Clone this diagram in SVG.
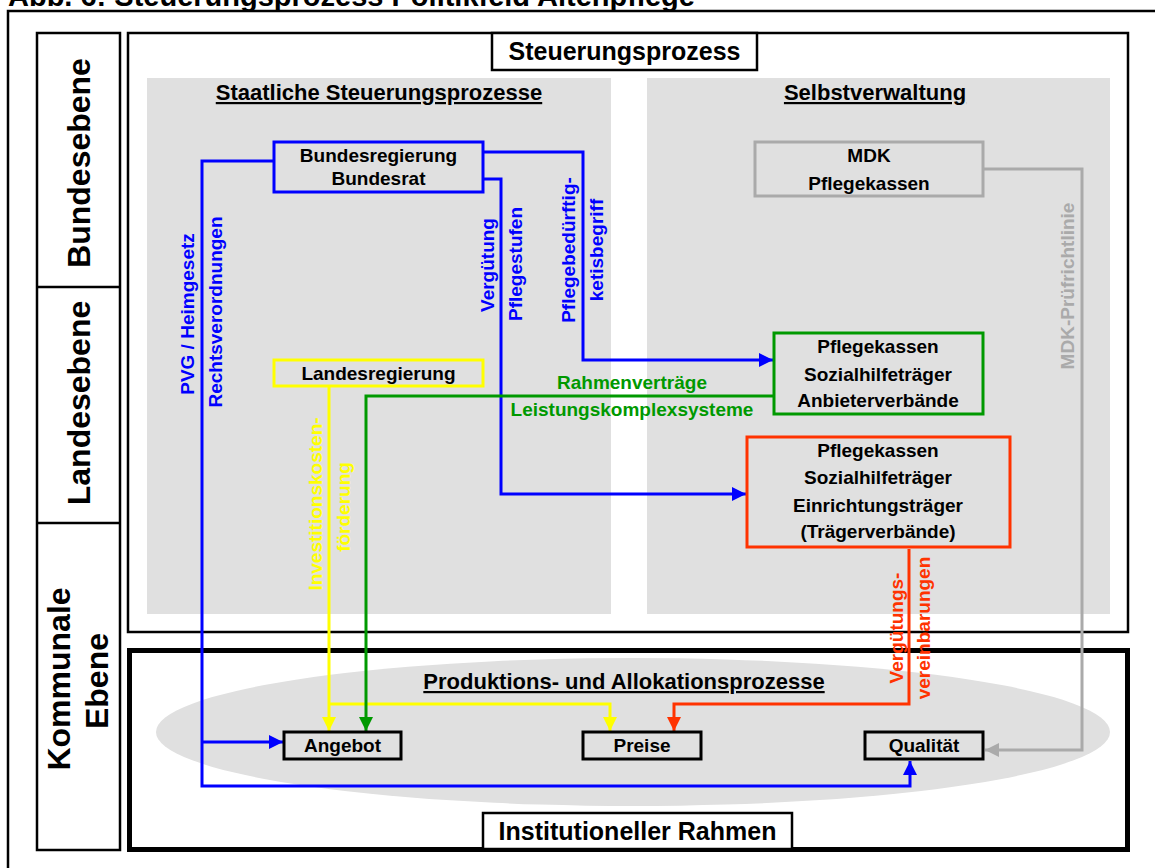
<svg xmlns="http://www.w3.org/2000/svg" width="1155" height="868" viewBox="0 0 1155 868">
<style>
text{font-family:"Liberation Sans",Arial,sans-serif;font-weight:bold;}
.n{font-size:19px;text-anchor:middle;fill:#000;}
.h{font-size:22px;text-anchor:middle;text-decoration:underline;}
.big{font-size:25px;text-anchor:middle;}
.side{font-size:32px;text-anchor:middle;}
.lbl{font-size:19px;text-anchor:middle;}
.frame{fill:none;stroke:#000;stroke-width:2.5;}
.panel{fill:#e0e0e0;}
.c{fill:none;stroke-width:3;}
.blue{stroke:#0000ff;}
.green{stroke:#009900;}
.yellow{stroke:#ffff00;}
.red{stroke:#ff3300;}
.gray{stroke:#aaaaaa;}
.box{fill:none;stroke-width:3;}
.bb{fill:#e0e0e0;stroke:#000;stroke-width:3;}
</style>
<defs>
<marker id="ab" markerUnits="userSpaceOnUse" markerWidth="14" markerHeight="14" refX="14" refY="7" orient="auto"><path d="M0,0 L14,7 L0,14 z" fill="#0000ff"/></marker>
<marker id="ag" markerUnits="userSpaceOnUse" markerWidth="14" markerHeight="14" refX="14" refY="7" orient="auto"><path d="M0,0 L14,7 L0,14 z" fill="#009900"/></marker>
<marker id="ay" markerUnits="userSpaceOnUse" markerWidth="14" markerHeight="14" refX="14" refY="7" orient="auto"><path d="M0,0 L14,7 L0,14 z" fill="#ffff00"/></marker>
<marker id="ar" markerUnits="userSpaceOnUse" markerWidth="14" markerHeight="14" refX="14" refY="7" orient="auto"><path d="M0,0 L14,7 L0,14 z" fill="#ff3300"/></marker>
<marker id="agr" markerUnits="userSpaceOnUse" markerWidth="14" markerHeight="14" refX="14" refY="7" orient="auto"><path d="M0,0 L14,7 L0,14 z" fill="#aaaaaa"/></marker>
</defs>
<rect width="1155" height="868" fill="#fff"/>
<text x="8" y="6" style="font-size:29px;">Abb. 6: Steuerungsprozess Politikfeld Altenpflege</text>
<path class="frame" d="M8,870 V11 H1157"/>

<g id="ebenen">
<rect class="frame" x="37" y="33" width="83" height="817"/>
<line class="frame" x1="37" y1="287" x2="120" y2="287"/>
<line class="frame" x1="37" y1="523" x2="120" y2="523"/>
<text class="side" transform="translate(90,163) rotate(-90)">Bundesebene</text>
<text class="side" transform="translate(90,403) rotate(-90)">Landesebene</text>
<text class="side" transform="translate(70,679) rotate(-90)">Kommunale</text>
<text class="side" transform="translate(108,681) rotate(-90)">Ebene</text>
</g>

<g id="steuerungsprozess">
<rect class="frame" x="128" y="33" width="1000" height="599"/>
<rect class="panel" x="147" y="78" width="464" height="536"/>
<rect class="panel" x="647" y="78" width="463" height="536"/>
<rect x="492" y="33" width="265" height="37" fill="#fff" stroke="#000" stroke-width="2.5"/>
<text class="big" x="624.5" y="60">Steuerungsprozess</text>
<text class="h" x="379" y="100">Staatliche Steuerungsprozesse</text>
<text class="h" x="875" y="100">Selbstverwaltung</text>
</g>

<g id="rahmen">
<rect x="129.5" y="650.5" width="998" height="199" fill="none" stroke="#000" stroke-width="5"/>
<ellipse cx="633" cy="732" rx="477" ry="74" fill="#e0e0e0"/>
<text class="h" x="624" y="689">Produktions- und Allokationsprozesse</text>
<rect x="483" y="813" width="309" height="36" fill="#fff" stroke="#000" stroke-width="2.5"/>
<text class="big" x="637.5" y="840">Institutioneller Rahmen</text>
</g>

<g id="connectors">
<path class="c blue" d="M274,161 H202 V786 H910 V761" marker-end="url(#ab)"/>
<path class="c blue" d="M202,742 H283" marker-end="url(#ab)"/>
<path class="c blue" d="M483,179 H501 V494 H746" marker-end="url(#ab)"/>
<path class="c blue" d="M483,152 H583 V360 H773" marker-end="url(#ab)"/>
<path class="c yellow" d="M329,387 V731" marker-end="url(#ay)"/>
<path class="c yellow" d="M329,704 H610 V731" marker-end="url(#ay)"/>
<path class="c green" d="M773,396 H366 V731" marker-end="url(#ag)"/>
<path class="c red" d="M909,549 V704 H674 V731" marker-end="url(#ar)"/>
<path class="c gray" d="M983,169 H1082 V750 H985" marker-end="url(#agr)"/>
<g class="lbl" fill="#0000ff">
<text transform="translate(194,314) rotate(-90)">PVG / Heimgesetz</text>
<text transform="translate(222,312) rotate(-90)">Rechtsverordnungen</text>
<text transform="translate(494,265) rotate(-90)">Vergütung</text>
<text transform="translate(522,264) rotate(-90)">Pflegestufen</text>
<text transform="translate(575,250) rotate(-90)">Pflegebedürftig-</text>
<text transform="translate(603,250) rotate(-90)">ketisbegriff</text>
</g>
<g class="lbl" fill="#009900">
<text x="632" y="389">Rahmenverträge</text>
<text x="632" y="416">Leistungskomplexsysteme</text>
</g>
<g class="lbl" fill="#ffff00">
<text transform="translate(322,504) rotate(-90)">Investitionskosten-</text>
<text transform="translate(350,507) rotate(-90)">förderung</text>
</g>
<g class="lbl" fill="#ff3300">
<text transform="translate(903,628) rotate(-90)">Vergütungs-</text>
<text transform="translate(930,628) rotate(-90)">vereinbarungen</text>
</g>
<text class="lbl" fill="#aaaaaa" transform="translate(1074,286) rotate(-90)">MDK-Prüfrichtlinie</text>
</g>

<g id="bundesregierung">
<rect class="box blue" x="274" y="142" width="209" height="50"/>
<text class="n" x="378.5" y="162">Bundesregierung</text>
<text class="n" x="378.5" y="185">Bundesrat</text>
</g>
<g id="landesregierung">
<rect class="box yellow" x="274" y="360" width="209" height="26"/>
<text class="n" x="378.5" y="380">Landesregierung</text>
</g>
<g id="mdk">
<rect class="box gray" x="755" y="142" width="228" height="54"/>
<text class="n" x="869" y="162">MDK</text>
<text class="n" x="869" y="190">Pflegekassen</text>
</g>
<g id="anbieter">
<rect class="box green" x="774" y="333" width="209" height="81"/>
<text class="n" x="878" y="353">Pflegekassen</text>
<text class="n" x="878" y="381">Sozialhilfeträger</text>
<text class="n" x="878" y="407">Anbieterverbände</text>
</g>
<g id="traeger">
<rect class="box red" x="747" y="437" width="263" height="110"/>
<text class="n" x="878" y="457">Pflegekassen</text>
<text class="n" x="878" y="484">Sozialhilfeträger</text>
<text class="n" x="878" y="512">Einrichtungsträger</text>
<text class="n" x="878" y="538">(Trägerverbände)</text>
</g>
<g id="angebot">
<rect class="bb" x="284" y="732" width="117" height="27"/>
<text class="n" x="342.5" y="752">Angebot</text>
</g>
<g id="preise">
<rect class="bb" x="583" y="732" width="118" height="27"/>
<text class="n" x="642" y="752">Preise</text>
</g>
<g id="qualitaet">
<rect class="bb" x="865" y="732" width="118" height="27"/>
<text class="n" x="924" y="752">Qualität</text>
</g>
</svg>
